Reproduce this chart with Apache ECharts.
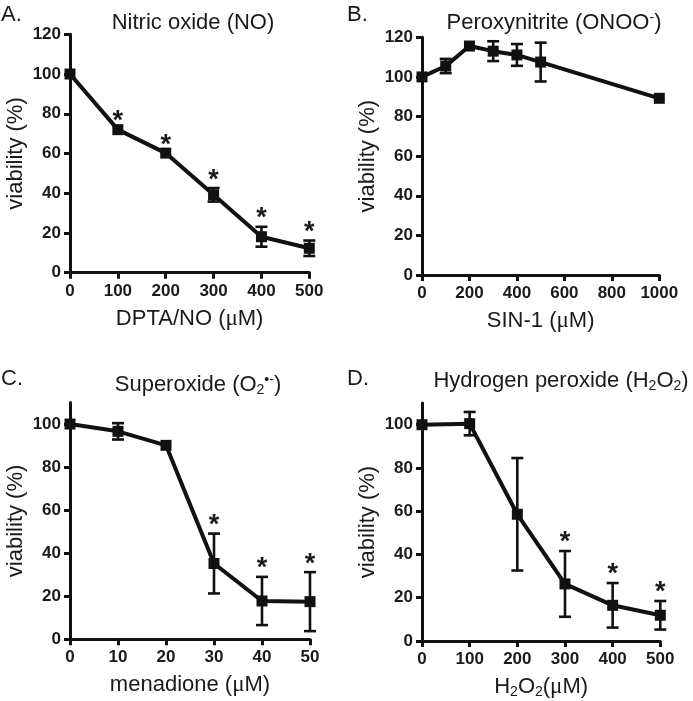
<!DOCTYPE html>
<html><head><meta charset="utf-8">
<script src="https://cdn.jsdelivr.net/npm/echarts@6/dist/echarts.min.js"></script>
<style>html,body{margin:0;padding:0;background:#fff}#c{width:693px;height:701px}</style>
</head><body><div id="c"></div>
<script>
// ---- data ----
const xA = [0, 100, 200, 300, 400, 500];
const meanA = [100, 72, 60.2, 39.2, 18.1, 12.3];
const errA = [0, 0, 0, 3.4, 5, 3.9];
const starA = [0, 1, 1, 1, 1, 1];

const xB = [0, 100, 200, 300, 400, 500, 1000];
const meanB = [100, 105.5, 115.6, 113, 111.1, 107.5, 89.2];
const errB = [0, 3.6, 0, 5, 5.5, 9.8, 0];
const starB = [0, 0, 0, 0, 0, 0, 0];

const xC = [0, 10, 20, 30, 40, 50];
const meanC = [100, 96.6, 90.1, 35.2, 17.8, 17.5];
const errC = [0, 3.8, 0, 13.9, 11.2, 13.7];
const starC = [0, 0, 0, 1, 1, 1];

const xD = [0, 100, 200, 300, 400, 500];
const meanD = [100, 100.5, 58.6, 26.4, 16.5, 11.9];
const errD = [0, 5.4, 26, 15.2, 10.3, 6.6];
const starD = [0, 0, 0, 1, 1, 1];

const yTicks = [0, 20, 40, 60, 80, 100];

// ---- styling ----
const FONT = "'Liberation Sans', Arial, Helvetica, sans-serif";
const SERIF = "'Liberation Serif', 'DejaVu Serif', serif";
const TXT = '#1a1a1a';
const INK = '#111';

const grids = [
  {left: 70, top: 34.3, width: 239.3, height: 238.4},
  {left: 422, top: 37.3, width: 237.3, height: 237.7},
  {left: 70, top: 402.5, width: 240, height: 236.8},
  {left: 422, top: 403.1, width: 238.3, height: 237.9}
];

const richStyles = {
  n: {fontSize: 22, fontFamily: FONT, color: TXT, lineHeight: 24},
  mu: {fontSize: 23, fontFamily: SERIF, color: TXT, lineHeight: 24},
  sub: {fontSize: 14, fontFamily: FONT, color: TXT, lineHeight: 10, verticalAlign: 'bottom'},
  sup: {fontSize: 14, fontFamily: FONT, color: TXT, lineHeight: 10, verticalAlign: 'top'}
};

function xAxis(gi, max, interval, name) {
  return {
    type: 'value', gridIndex: gi, min: 0, max: max, interval: interval,
    name: name, nameLocation: 'middle', nameGap: 34,
    nameTextStyle: {fontSize: 22, fontFamily: FONT, color: TXT, rich: richStyles},
    axisLine: {show: true, onZero: false, lineStyle: {color: INK, width: 3}},
    axisTick: {show: true, length: 6, lineStyle: {color: INK, width: 3}},
    axisLabel: {fontSize: 17, fontWeight: 'bold', fontFamily: FONT, color: TXT, margin: 10,
      formatter: v => String(v)},
    splitLine: {show: false}
  };
}
function yAxis(gi, max) {
  const vals = max === 120 ? yTicks.concat([120]) : yTicks;
  return {
    type: 'value', gridIndex: gi, min: 0, max: max, interval: 20,
    name: 'viability (%)', nameLocation: 'middle', nameGap: 43,
    nameTextStyle: {fontSize: 22, fontFamily: FONT, color: TXT},
    axisLine: {show: true, onZero: false, lineStyle: {color: INK, width: 3}},
    axisTick: {show: true, length: 6, lineStyle: {color: INK, width: 3}, customValues: vals},
    axisLabel: {fontSize: 17, fontWeight: 'bold', fontFamily: FONT, color: TXT, margin: 9,
      customValues: vals, formatter: v => String(v)},
    splitLine: {show: false}
  };
}

function errRender(params, api) {
  const x = api.value(0), lo = api.value(1), hi = api.value(2), star = api.value(3);
  const pHi = api.coord([x, hi]);
  const pLo = api.coord([x, lo]);
  const ch = [];
  if (hi - lo > 0.01) {
    const st = {stroke: INK, lineWidth: 2.6};
    ch.push({type: 'line', shape: {x1: pHi[0], y1: pHi[1], x2: pLo[0], y2: pLo[1]}, style: st});
    ch.push({type: 'line', shape: {x1: pHi[0] - 6, y1: pHi[1], x2: pHi[0] + 6, y2: pHi[1]}, style: st});
    ch.push({type: 'line', shape: {x1: pLo[0] - 6, y1: pLo[1], x2: pLo[0] + 6, y2: pLo[1]}, style: st});
  }
  if (star) {
    ch.push({type: 'text', x: pHi[0], y: pHi[1] - 8,
      style: {text: '*', fontSize: 27, fontWeight: 'bold', fontFamily: FONT, fill: TXT,
        align: 'center', verticalAlign: 'middle'}});
  }
  return {type: 'group', children: ch};
}

function panelSeries(gi, xs, means, errs, stars) {
  return [
    {type: 'line', xAxisIndex: gi, yAxisIndex: gi,
      data: xs.map((x, i) => [x, means[i]]),
      symbol: 'rect', symbolSize: 11, showAllSymbol: true,
      lineStyle: {color: INK, width: 4}, itemStyle: {color: INK}, z: 3},
    {type: 'custom', xAxisIndex: gi, yAxisIndex: gi, clip: false,
      data: xs.map((x, i) => [x, means[i] - errs[i], means[i] + errs[i], stars[i]]),
      renderItem: errRender, z: 4}
  ];
}

function txt(x, y, text, align) {
  return {type: 'text', x: x, y: y, z: 10,
    style: {text: text, rich: richStyles, fontSize: 22, fontFamily: FONT, fill: TXT,
      align: align || 'center', verticalAlign: 'middle'}};
}

const chart = echarts.init(document.getElementById('c'), null, {renderer: 'canvas'});
chart.setOption({
  animation: false,
  backgroundColor: '#fff',
  grid: grids,
  xAxis: [
    xAxis(0, 500, 100, '{n|DPTA/NO (}{mu|μ}{n|M)}'),
    xAxis(1, 1000, 200, '{n|SIN-1 (}{mu|μ}{n|M)}'),
    xAxis(2, 50, 10, '{n|menadione (}{mu|μ}{n|M)}'),
    xAxis(3, 500, 100, '{n|H}{sub|2}{n|O}{sub|2}{n|(}{mu|μ}{n|M)}')
  ],
  yAxis: [yAxis(0, 120), yAxis(1, 120), yAxis(2, 110), yAxis(3, 110)],
  series: [].concat(
    panelSeries(0, xA, meanA, errA, starA),
    panelSeries(1, xB, meanB, errB, starB),
    panelSeries(2, xC, meanC, errC, starC),
    panelSeries(3, xD, meanD, errD, starD)
  ),
  graphic: [
    txt(1, 15, 'A.', 'left'),
    txt(347, 15, 'B.', 'left'),
    txt(1, 379, 'C.', 'left'),
    txt(347, 379, 'D.', 'left'),
    txt(193, 23, '{n|Nitric oxide (NO)}'),
    txt(554, 23, '{n|Peroxynitrite (ONOO}{sup|-}{n|)}'),
    txt(198, 385, '{n|Superoxide (O}{sub|2}{sup|•-}{n|)}'),
    txt(561, 381, '{n|Hydrogen peroxide (H}{sub|2}{n|O}{sub|2}{n|)}')
  ]
});
</script>
</body></html>
